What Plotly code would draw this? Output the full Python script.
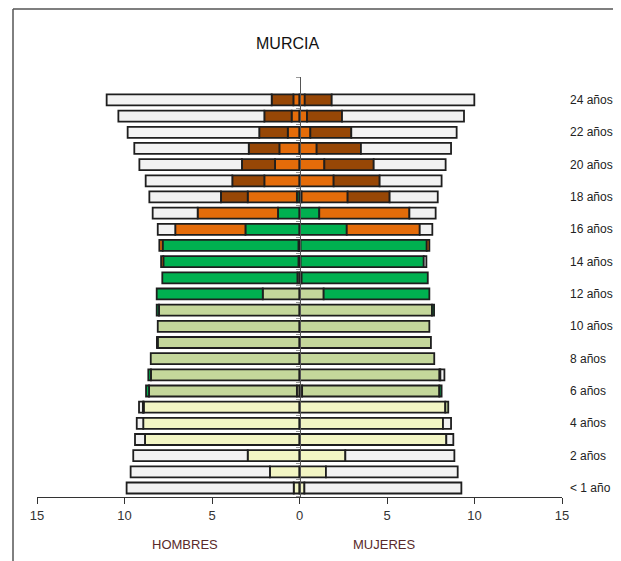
#!/usr/bin/env python
# coding: utf-8

# Pirámide de población por nivel de estudios - Murcia

import plotly.graph_objects as go

# Edades (0 = "< 1 año")
edades = list(range(25))

# Hombres (% por nivel, del centro hacia fuera)
h_infantil = [0.33, 1.69, 2.96, 8.83, 8.93, 8.90, 0.15, 0, 0, 0, 0, 0, 0, 0, 0, 0, 0, 0, 0, 0, 0, 0, 0, 0, 0]
h_primaria = [0, 0, 0, 0, 0, 0.05, 8.45, 8.49, 8.50, 8.10, 8.10, 8.03, 2.10, 0.12, 0.06, 0.06, 0, 0, 0, 0, 0, 0, 0, 0, 0]
h_eso = [0, 0, 0, 0, 0, 0, 0.17, 0.15, 0, 0.05, 0, 0.13, 6.06, 7.72, 7.72, 7.76, 3.09, 1.23, 0.15, 0, 0, 0, 0, 0, 0]
h_medio = [0, 0, 0, 0, 0, 0, 0, 0, 0, 0, 0, 0, 0, 0, 0.13, 0.19, 4.01, 4.59, 2.81, 2.01, 1.40, 1.15, 0.67, 0.45, 0.35]
h_superior = [0, 0, 0, 0, 0, 0, 0, 0, 0, 0, 0, 0, 0, 0, 0, 0, 0, 0, 1.53, 1.83, 1.89, 1.75, 1.63, 1.56, 1.24]
h_no_estudia = [9.55, 7.96, 6.54, 0.57, 0.37, 0.22, 0, 0, 0, 0, 0, 0, 0, 0, 0, 0, 1.00, 2.57, 4.09, 4.95, 5.86, 6.54, 7.52, 8.34, 9.43]

# Mujeres
m_infantil = [0.28, 1.51, 2.62, 8.39, 8.20, 8.33, 0.15, 0, 0, 0, 0, 0, 0, 0, 0, 0, 0, 0, 0, 0, 0, 0, 0, 0, 0]
m_primaria = [0, 0, 0, 0, 0, 0.17, 7.84, 8.00, 7.70, 7.51, 7.42, 7.57, 1.38, 0.12, 0.06, 0.06, 0, 0, 0, 0, 0, 0, 0, 0, 0]
m_eso = [0, 0, 0, 0, 0, 0, 0.13, 0.05, 0, 0, 0, 0.12, 6.04, 7.21, 7.04, 7.21, 2.70, 1.13, 0.12, 0, 0, 0, 0, 0, 0]
m_medio = [0, 0, 0, 0, 0, 0, 0, 0, 0, 0, 0, 0, 0, 0, 0, 0.15, 4.17, 5.15, 2.63, 1.95, 1.42, 0.98, 0.62, 0.43, 0.30]
m_superior = [0, 0, 0, 0, 0, 0, 0, 0, 0, 0, 0, 0, 0, 0, 0, 0, 0, 0, 2.40, 2.63, 2.82, 2.53, 2.34, 2.00, 1.54]
m_no_estudia = [8.97, 7.53, 6.23, 0.40, 0.46, 0, 0, 0.23, 0, 0, 0, 0, 0, 0, 0.15, 0, 0.72, 1.50, 2.75, 3.54, 4.11, 5.15, 6.02, 6.97, 8.15]

# Etiquetas de edad (lado derecho)
etiquetas_edad = ["< 1 año", "2 años", "4 años", "6 años", "8 años", "10 años", "12 años",
                  "14 años", "16 años", "18 años", "20 años", "22 años", "24 años"]
posiciones_edad = [0, 2, 4, 6, 8, 10, 12, 14, 16, 18, 20, 22, 24]

# Ejes
ticks_x = [-15, -10, -5, 0, 5, 10, 15]
ticks_x_texto = ["15", "10", "5", "0", "5", "10", "15"]

# Colores de cada nivel
COLORES = ["#F2F5C4", "#C4D79B", "#00B050", "#E46C0A", "#974706", "#F2F2F2"]
FUENTE = "Liberation Sans, Arial, sans-serif"

fig = go.Figure()

niveles_h = [h_infantil, h_primaria, h_eso, h_medio, h_superior, h_no_estudia]
niveles_m = [m_infantil, m_primaria, m_eso, m_medio, m_superior, m_no_estudia]

# Barras: hombres a la izquierda (negativo), mujeres a la derecha
for valores_h, valores_m, cor in zip(niveles_h, niveles_m, COLORES):
    for valores, signo in ((valores_h, -1), (valores_m, 1)):
        fig.add_trace(
            go.Bar(
                x=[signo * v if v else None for v in valores],
                y=edades,
                orientation="h",
                marker=dict(color=cor, line=dict(color="#1e1e1e", width=1.8)),
                width=0.68,
                showlegend=False,
                hoverinfo="skip",
            )
        )

# La página tiene 8 px de margen en el body, se compensa en el tamaño
fig.update_layout(
    barmode="relative",
    width=613,
    height=553,
    margin=dict(l=29, r=59, t=69, b=64),
    plot_bgcolor="white",
    paper_bgcolor="white",
    font=dict(family=FUENTE, size=12, color="#333333"),
    xaxis=dict(
        range=[-15, 15],
        tickvals=ticks_x,
        ticktext=ticks_x_texto,
        showline=True,
        linecolor="#333333",
        linewidth=1,
        ticks="outside",
        ticklen=6,
        tickcolor="#333333",
        showgrid=False,
        zeroline=False,
        tickfont=dict(size=13, color="#333333"),
    ),
    yaxis=dict(
        range=[-0.557, 25.42],
        anchor="free",
        position=0.5,
        showline=True,
        linecolor="#555555",
        linewidth=1,
        layer="above traces",
        ticks="outside",
        ticklen=4,
        tickcolor="#999999",
        tickvals=[i - 0.5 for i in range(25)] + [25.4],
        showticklabels=False,
        showgrid=False,
        zeroline=False,
    ),
)

# Etiquetas de edad a la derecha (fuera del área de datos)
for pos, texto in zip(posiciones_edad, etiquetas_edad):
    fig.add_annotation(
        x=1.0114, y=(pos + 0.557) / 25.977, xref="paper", yref="paper", text=texto,
        showarrow=False, xanchor="left", yanchor="middle",
        font=dict(size=12, color="#222222"),
    )

# Título y rótulos de sexo
fig.add_annotation(
    x=-0.66, y=1.079, xref="x", yref="paper", text="MURCIA", showarrow=False,
    xanchor="center", yanchor="middle", font=dict(size=16, color="#111111"),
)
fig.add_annotation(
    x=-6.57, y=-0.114, xref="x", yref="paper", text="HOMBRES", showarrow=False,
    xanchor="center", yanchor="middle", font=dict(size=13, color="#5a2a2a"),
)
fig.add_annotation(
    x=4.83, y=-0.114, xref="x", yref="paper", text="MUJERES", showarrow=False,
    xanchor="center", yanchor="middle", font=dict(size=13, color="#5a2a2a"),
)

# Marco exterior (borde izquierdo y superior)
fig.add_shape(type="line", xref="paper", yref="paper", x0=-0.0457, x1=-0.0457,
              y0=-0.16, y1=1.162, line=dict(color="#555555", width=1.5))
fig.add_shape(type="line", xref="paper", yref="paper", x0=-0.0457, x1=1.12,
              y0=1.162, y1=1.162, line=dict(color="#555555", width=1.5))

fig.write_html("out.html")
